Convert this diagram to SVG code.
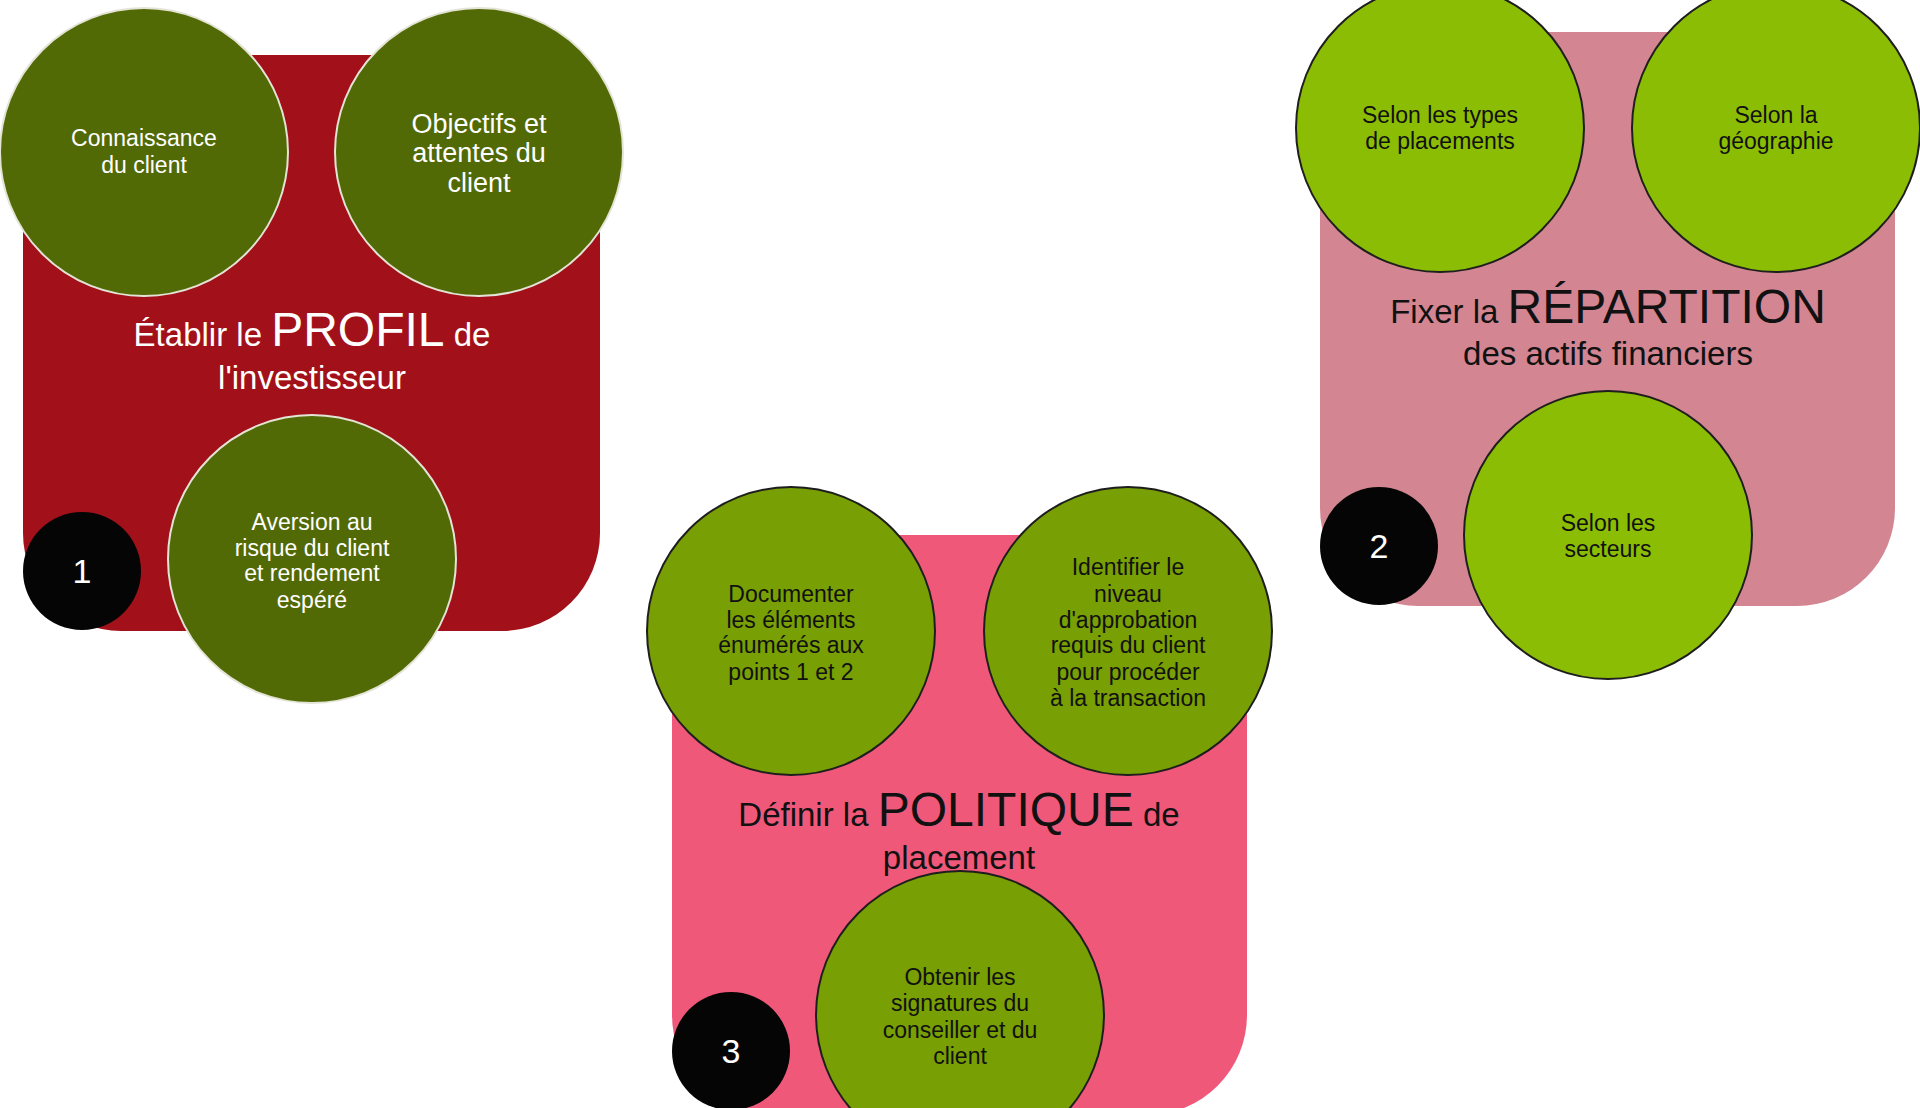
<svg xmlns="http://www.w3.org/2000/svg" width="1920" height="1108" viewBox="0 0 1920 1108">
<style>
text{font-family:"Liberation Sans",Arial,sans-serif;text-anchor:middle}
.c1{fill:#526a06;stroke:#e4e4d6;stroke-width:2}
.c2{fill:#8cbd05;stroke:#1e1e1e;stroke-width:2}
.c3{fill:#789f04;stroke:#1e1e1e;stroke-width:2}
.num{fill:#050505}
.nt{fill:#ffffff;font-size:34px}
.w{fill:#ffffff}
.k{fill:#111111}
.s{font-size:23px}
.tt{font-size:33px}
.big{font-size:48px}
</style>
<rect width="1920" height="1108" fill="#ffffff"/>
<g id="panel1">
<rect x="23" y="55" width="577" height="576" rx="98" fill="#a2111a"/>
<g id="p1-title"><text class="w tt" x="312" y="346">Établir le <tspan class="big">PROFIL</tspan> de</text><text class="w tt" x="312" y="389">l'investisseur</text></g>
<g id="p1-a"><circle class="c1" cx="144" cy="152" r="144"/><text class="w s" x="144" y="146">Connaissance</text><text class="w s" x="144" y="173">du client</text></g>
<g id="p1-b"><circle class="c1" cx="479" cy="152" r="144"/><text class="w" font-size="27" x="479" y="133">Objectifs et</text><text class="w" font-size="27" x="479" y="162">attentes du</text><text class="w" font-size="27" x="479" y="192">client</text></g>
<g id="p1-c"><circle class="c1" cx="312" cy="559" r="144"/><text class="w s" x="312" y="530">Aversion au</text><text class="w s" x="312" y="556">risque du client</text><text class="w s" x="312" y="581">et rendement</text><text class="w s" x="312" y="608">espéré</text></g>
<g id="p1-num"><circle class="num" cx="82" cy="571" r="59"/><text class="nt" x="82" y="583">1</text></g>
</g>
<g id="panel2">
<rect x="1320" y="32" width="575" height="574" rx="98" fill="#d38592"/>
<g id="p2-title"><text class="k tt" x="1608" y="323">Fixer la <tspan class="big">RÉPARTITION</tspan></text><text class="k tt" x="1608" y="365">des actifs financiers</text></g>
<g id="p2-a"><circle class="c2" cx="1440" cy="128" r="144"/><text class="k s" x="1440" y="123">Selon les types</text><text class="k s" x="1440" y="149">de placements</text></g>
<g id="p2-b"><circle class="c2" cx="1776" cy="128" r="144"/><text class="k s" x="1776" y="123">Selon la</text><text class="k s" x="1776" y="149">géographie</text></g>
<g id="p2-c"><circle class="c2" cx="1608" cy="535" r="144"/><text class="k s" x="1608" y="531">Selon les</text><text class="k s" x="1608" y="557">secteurs</text></g>
<g id="p2-num"><circle class="num" cx="1379" cy="546" r="59"/><text class="nt" x="1379" y="558">2</text></g>
</g>
<g id="panel3">
<rect x="672" y="535" width="575" height="580" rx="100" fill="#f0587a"/>
<g id="p3-a"><circle class="c3" cx="791" cy="631" r="144"/><text class="k s" x="791" y="602">Documenter</text><text class="k s" x="791" y="628">les éléments</text><text class="k s" x="791" y="653">énumérés aux</text><text class="k s" x="791" y="680">points 1 et 2</text></g>
<g id="p3-b"><circle class="c3" cx="1128" cy="631" r="144"/><text class="k s" x="1128" y="575">Identifier le</text><text class="k s" x="1128" y="602">niveau</text><text class="k s" x="1128" y="628">d'approbation</text><text class="k s" x="1128" y="653">requis du client</text><text class="k s" x="1128" y="680">pour procéder</text><text class="k s" x="1128" y="706">à la transaction</text></g>
<g id="p3-c"><circle class="c3" cx="960" cy="1015" r="144"/><text class="k s" x="960" y="985">Obtenir les</text><text class="k s" x="960" y="1011">signatures du</text><text class="k s" x="960" y="1038">conseiller et du</text><text class="k s" x="960" y="1064">client</text></g>
<g id="p3-title"><text class="k tt" x="959" y="826">Définir la <tspan class="big">POLITIQUE</tspan> de</text><text class="k tt" x="959" y="869">placement</text></g>
<g id="p3-num"><circle class="num" cx="731" cy="1051" r="59"/><text class="nt" x="731" y="1063">3</text></g>
</g>
</svg>
